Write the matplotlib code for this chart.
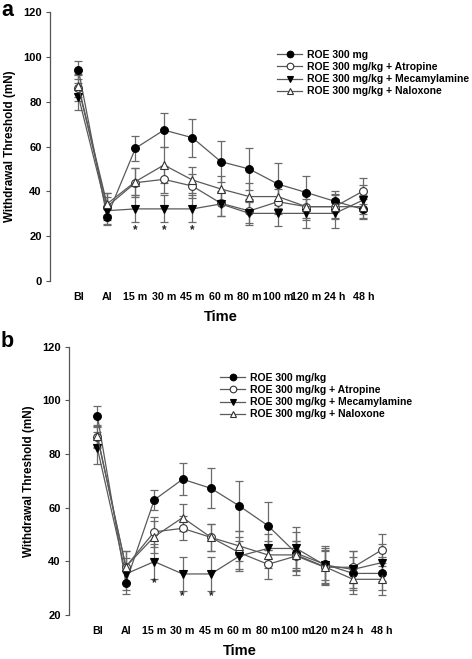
import matplotlib
matplotlib.use("Agg")
import matplotlib.pyplot as plt
import numpy as np

plt.rcParams['font.family'] = ['Liberation Sans', 'DejaVu Sans']
plt.rcParams['font.weight'] = 'bold'

time_labels = ["BI", "AI", "15 m", "30 m", "45 m", "60 m", "80 m", "100 m", "120 m", "24 h", "48 h"]

# Panel a
a_roe = [94.2, 28.7, 59.3, 67.4, 64.0, 53.3, 50.0, 43.3, 39.5, 35.6, 32.0]
a_roe_err = [4.0, 3.5, 5.6, 7.5, 8.5, 9.0, 9.4, 9.5, 7.5, 4.7, 4.5]
a_atr = [86.3, 33.2, 43.9, 45.4, 42.4, 34.7, 31.3, 35.4, 33.2, 33.2, 40.2]
a_atr_err = [6.0, 6.0, 6.5, 6.0, 5.5, 5.5, 5.5, 5.5, 6.0, 5.5, 6.0]
a_mec = [82.3, 31.4, 32.2, 32.2, 32.2, 34.4, 30.2, 30.2, 30.2, 30.2, 36.2]
a_mec_err = [6.0, 6.0, 6.0, 6.0, 6.0, 5.5, 5.0, 5.5, 6.5, 6.5, 6.5]
a_nal = [87.0, 34.4, 44.4, 51.8, 45.1, 41.1, 37.7, 37.7, 33.2, 33.2, 33.2]
a_nal_err = [5.0, 5.0, 6.0, 8.0, 6.0, 6.0, 6.0, 5.0, 5.0, 5.0, 5.0]
a_star_idx = [2, 3, 4]
a_star_y = [22.8, 22.8, 22.8]

# Panel b
b_roe = [94.2, 32.0, 62.9, 70.6, 67.2, 60.6, 53.3, 43.0, 38.9, 35.5, 35.5]
b_roe_err = [3.7, 4.0, 3.6, 6.0, 7.5, 9.4, 9.0, 8.0, 6.0, 6.0, 6.0]
b_atr = [86.2, 38.0, 51.0, 52.3, 48.9, 43.2, 38.9, 42.0, 37.8, 37.8, 44.2]
b_atr_err = [4.0, 6.0, 5.5, 4.5, 5.0, 6.0, 5.5, 5.5, 6.5, 6.0, 6.0]
b_mec = [82.1, 35.3, 39.9, 35.3, 35.3, 42.0, 44.8, 44.8, 38.6, 37.0, 39.5]
b_mec_err = [6.0, 6.0, 6.5, 6.5, 6.5, 5.5, 5.5, 8.0, 7.0, 7.0, 7.0]
b_nal = [86.7, 38.0, 49.2, 56.3, 48.9, 45.7, 42.4, 42.4, 38.0, 33.3, 33.3]
b_nal_err = [4.0, 6.0, 6.0, 5.0, 5.0, 5.5, 5.0, 5.0, 6.0, 5.5, 6.0]
b_star_idx = [2, 3, 4]
b_star_y = [31.8, 27.2, 27.2]

legend_a = ["ROE 300 mg", "ROE 300 mg/kg + Atropine", "ROE 300 mg/kg + Mecamylamine", "ROE 300 mg/kg + Naloxone"]
legend_b = ["ROE 300 mg/kg", "ROE 300 mg/kg + Atropine", "ROE 300 mg/kg + Mecamylamine", "ROE 300 mg/kg + Naloxone"]

W, H = 472, 659
fig = plt.figure(figsize=(W / 100, H / 100), dpi=100)

line_col = '#5a5a5a'
err_col = '#6a6a6a'
styles = [
    dict(marker='o', mfc='black', mec='black'),
    dict(marker='o', mfc='white', mec='#333333'),
    dict(marker='v', mfc='black', mec='black'),
    dict(marker='^', mfc='white', mec='#333333'),
]


def panel(rect, series, errs, labels, ylim, yticks, stars_idx, stars_y, letter, letter_pos, leg_pos):
    ax = fig.add_axes(rect)
    x = np.arange(len(time_labels))
    handles = []
    for s, e, st, lab in zip(series, errs, styles, labels):
        ax.errorbar(x, s, yerr=e, fmt='none', ecolor=err_col, elinewidth=0.9,
                    capsize=3, capthick=0.9, zorder=2)
        h, = ax.plot(x, s, color=line_col, lw=0.9, marker=st['marker'], ms=5.6,
                     mfc=st['mfc'], mec=st['mec'], mew=0.8, label=lab, zorder=3)
        handles.append(h)
    for i, yv in zip(stars_idx, stars_y):
        ax.text(x[i], yv, '*', ha='center', va='center', fontsize=8.5, color='#222222')
    ax.set_xlim(-1, 11)
    ax.set_ylim(*ylim)
    ax.set_yticks(yticks)
    ax.set_xticks(x)
    ax.set_xticklabels(time_labels, fontsize=7.7, fontweight='bold')
    ax.tick_params(axis='x', length=0, pad=8)
    ax.tick_params(axis='y', length=3, width=0.8, color='#555555', labelsize=8.0, pad=3)
    for lab in ax.get_yticklabels():
        lab.set_fontweight('bold')
    for sp in ['top', 'right', 'bottom']:
        ax.spines[sp].set_visible(False)
    ax.spines['left'].set_color('#555555')
    ax.spines['left'].set_linewidth(0.9)
    ax.set_ylabel('Withdrawal Threshold (mN)', fontsize=8.4, fontweight='bold', labelpad=5)
    ax.set_xlabel('Time', fontsize=10.5, fontweight='bold', labelpad=6)
    leg = ax.legend(handles=handles, loc='upper left', bbox_to_anchor=leg_pos,
                    bbox_transform=fig.transFigure, frameon=False, fontsize=7.5,
                    handlelength=2.4, handletextpad=0.5, labelspacing=0.2,
                    borderpad=0, borderaxespad=0, markerscale=0.85)
    for t in leg.get_texts():
        t.set_fontweight('bold')
    fig.text(letter_pos[0], letter_pos[1], letter, fontsize=15.5, fontweight='bold',
             ha='left', va='baseline')
    return ax


panel([50 / W, 1 - 281 / H, 341.8 / W, (281 - 12.3) / H],
      [a_roe, a_atr, a_mec, a_nal], [a_roe_err, a_atr_err, a_mec_err, a_nal_err],
      legend_a, (0, 120), [0, 20, 40, 60, 80, 100, 120], a_star_idx, a_star_y,
      'a', (1 / W, 1 - 16 / H), (277 / W, 1 - 50 / H))

panel([69 / W, 1 - 615 / H, 341 / W, (615 - 346.7) / H],
      [b_roe, b_atr, b_mec, b_nal], [b_roe_err, b_atr_err, b_mec_err, b_nal_err],
      legend_b, (20, 120), [20, 40, 60, 80, 100, 120], b_star_idx, b_star_y,
      'b', (1 / W, 1 - 347 / H), (220 / W, 1 - 373 / H))

fig.savefig('out.png', dpi=100)
